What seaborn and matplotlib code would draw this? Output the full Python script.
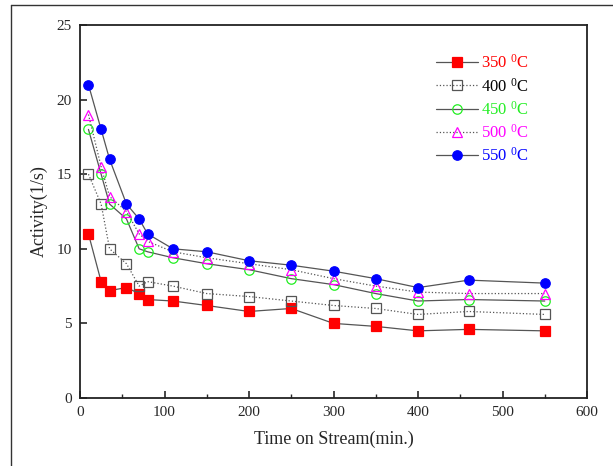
import matplotlib
matplotlib.use("Agg")
import matplotlib.pyplot as plt
import seaborn as sns
import pandas as pd
from matplotlib.lines import Line2D
from matplotlib.ticker import MultipleLocator

time_min = [10, 25, 35, 55, 70, 80, 110, 150, 200, 250, 300, 350, 400, 460, 550]
act_350 = [11.0, 7.8, 7.2, 7.4, 7.0, 6.6, 6.5, 6.2, 5.8, 6.0, 5.0, 4.8, 4.5, 4.6, 4.5]
act_400 = [15.0, 13.0, 10.0, 9.0, 7.5, 7.8, 7.5, 7.0, 6.8, 6.5, 6.2, 6.0, 5.6, 5.8, 5.6]
act_450 = [18.0, 15.0, 13.0, 12.0, 10.0, 9.8, 9.4, 9.0, 8.6, 8.0, 7.6, 7.0, 6.5, 6.6, 6.5]
act_500 = [19.0, 15.5, 13.5, 12.5, 11.0, 10.5, 9.8, 9.4, 9.0, 8.6, 8.0, 7.5, 7.1, 7.0, 7.0]
act_550 = [21.0, 18.0, 16.0, 13.0, 12.0, 11.0, 10.0, 9.8, 9.2, 8.9, 8.5, 8.0, 7.4, 7.9, 7.7]
labels = ["350", "400", "450", "500", "550"]

sns.set_style("ticks")
plt.rcParams['font.family'] = ['Liberation Serif', 'DejaVu Serif']
plt.rcParams['mathtext.fontset'] = 'custom'
plt.rcParams['mathtext.rm'] = 'Liberation Serif'

fig = plt.figure(figsize=(6.13, 4.66), dpi=100)
ax = fig.add_axes([80/613, 1-398/466, (587-80)/613, (398-25)/466])

series = [act_350, act_400, act_450, act_500, act_550]
styles = [
    dict(marker='s', mfc='#ff0000', mec='#ff0000', ls='-', text='#ff0000'),
    dict(marker='s', mfc='none', mec='#555555', ls=':', text='#000000'),
    dict(marker='o', mfc='none', mec='#22ee22', ls='-', text='#22ee22'),
    dict(marker='^', mfc='none', mec='#ff00ff', ls=':', text='#ff00ff'),
    dict(marker='o', mfc='#0000ff', mec='#0000ff', ls='-', text='#0000ff'),
]
for lab, vals, st in zip(labels, series, styles):
    df = pd.DataFrame({"t": time_min, "a": vals})
    sns.lineplot(data=df, x="t", y="a", ax=ax, color='#555555', linewidth=0.9,
                 linestyle=st['ls'], marker=st['marker'], markersize=6.8,
                 markerfacecolor=st['mfc'], markeredgecolor=st['mec'],
                 markeredgewidth=0.9, label=lab + r" $\mathregular{^0}$C")

ax.set_xlim(0, 600)
ax.set_ylim(0, 25)
ax.xaxis.set_major_locator(MultipleLocator(100))
ax.xaxis.set_minor_locator(MultipleLocator(50))
ax.yaxis.set_major_locator(MultipleLocator(5))
ax.tick_params(direction='in', which='major', length=5, width=1.2, labelsize=11,
               top=False, right=False, pad=6)
ax.tick_params(direction='in', which='minor', length=3, width=1.0, top=False, right=False)
for s in ax.spines.values():
    s.set_linewidth(1.3)
    s.set_color('#222222')
ax.set_xlabel("Time on Stream(min.)", fontsize=13, labelpad=8)
ax.set_ylabel("Activity(1/s)", fontsize=13, labelpad=6)

leg = ax.legend(loc='upper right', bbox_to_anchor=(0.915, 0.962), frameon=False,
                fontsize=12, handlelength=2.5, handletextpad=0.2, labelspacing=0.32)
for txt, st in zip(leg.get_texts(), styles):
    txt.set_color(st['text'])

fig.add_artist(Line2D([11/613, 11/613], [0, 1-5/466], transform=fig.transFigure,
                      color='#333333', linewidth=1.0))
fig.add_artist(Line2D([11/613, 1], [1-5/466, 1-5/466], transform=fig.transFigure,
                      color='#333333', linewidth=1.0))

fig.savefig("out.png", dpi=100)
